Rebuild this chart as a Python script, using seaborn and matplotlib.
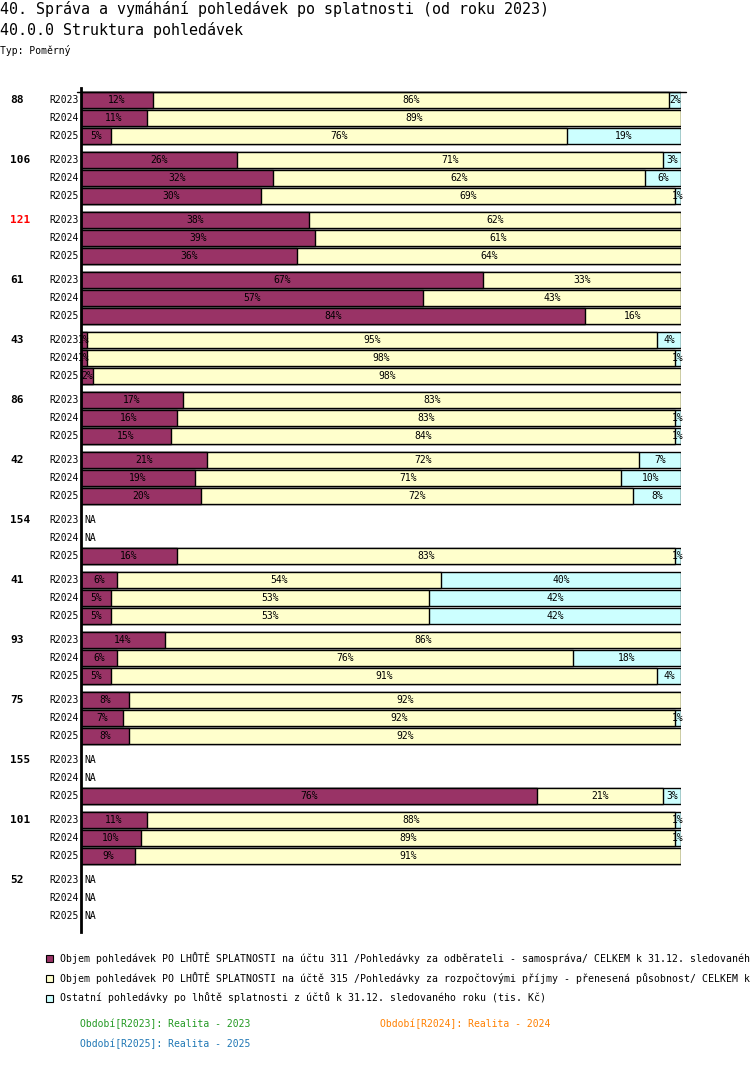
import numpy as np
import pandas as pd
import matplotlib
matplotlib.use("Agg")
import matplotlib.pyplot as plt
from matplotlib.patches import Rectangle
import seaborn as sns

# --- data (percent shares) ---
groups = ["88", "106", "121", "61", "43", "86", "42", "154", "41", "93", "75", "155", "101", "52"]
periods = ["R2023", "R2024", "R2025"]
nan = np.nan
share_311 = [12, 11, 5,  26, 32, 30,  38, 39, 36,  67, 57, 84,  1, 1, 2,  17, 16, 15,
             21, 19, 20,  nan, nan, 16,  6, 5, 5,  14, 6, 5,  8, 7, 8,  nan, nan, 76,
             11, 10, 9,  nan, nan, nan]
share_315 = [86, 89, 76,  71, 62, 69,  62, 61, 64,  33, 43, 16,  95, 98, 98,  83, 83, 84,
             72, 71, 72,  nan, nan, 83,  54, 53, 53,  86, 76, 91,  92, 92, 92,  nan, nan, 21,
             88, 89, 91,  nan, nan, nan]
share_other = [2, 0, 19,  3, 6, 1,  0, 0, 0,  0, 0, 0,  4, 1, 0,  0, 1, 1,
               7, 10, 8,  nan, nan, 1,  40, 42, 42,  0, 18, 4,  0, 1, 0,  nan, nan, 3,
               1, 1, 0,  nan, nan, nan]
highlight = "121"

legend_labels = [
    "Objem pohledávek PO LHŮTĚ SPLATNOSTI na účtu 311 /Pohledávky za odběrateli - samospráva/ CELKEM k 31.12. sledovaného roku (tis. Kč)",
    "Objem pohledávek PO LHŮTĚ SPLATNOSTI na účtě 315 /Pohledávky za rozpočtovými příjmy - přenesená působnost/ CELKEM k 31.12. sledovaného roku (tis. Kč)",
    "Ostatní pohledávky po lhůtě splatnosti z účtů k 31.12. sledovaného roku (tis. Kč)",
]
period_notes = ["Období[R2023]: Realita - 2023", "Období[R2024]: Realita - 2024", "Období[R2025]: Realita - 2025"]

C_311 = "#993366"
C_315 = "#ffffcc"
C_OTH = "#ccffff"
note_colors = ["#229922", "#ff8000", "#1f77b4"]

W, H = 750, 1082
GAP = 1 / 3  # extra space between groups, in row units

rows = []
for gi, g in enumerate(groups):
    for pi, p in enumerate(periods):
        k = gi * 3 + pi
        rows.append(dict(group=g, period=p, y=gi * (3 + GAP) + pi,
                         a=share_311[k], b=share_315[k], c=share_other[k]))
df = pd.DataFrame(rows)
df["ab"] = df["a"] + df["b"]
df["abc"] = df["ab"] + df["c"]
valid = df.dropna(subset=["a"])

sns.set_style("white")
plt.rcParams["font.family"] = ["DejaVu Sans Mono", "DejaVu Sans"]
plt.rcParams["text.color"] = "black"

fig = plt.figure(figsize=(W / 100, H / 100), dpi=100)


def fx(px):
    return px / W


def fy(py):
    return 1 - py / H


ax = fig.add_axes([fx(81), fy(932), fx(600), (932 - 88) / H])

for col, color in [("abc", C_OTH), ("ab", C_315), ("a", C_311)]:
    sns.barplot(data=valid, x=col, y="y", orient="h", native_scale=True,
                width=0.9, color=color, saturation=1, edgecolor="black",
                linewidth=1, errorbar=None, ax=ax)

# percent labels in segments
for _, r in valid.iterrows():
    left = 0
    for v in (r["a"], r["b"], r["c"]):
        if v > 0:
            ax.text(left + v / 2, r["y"], f"{v:.0f}%", ha="center", va="center",
                    fontsize=7, color="black")
        left += v

# NA rows
for _, r in df[df["a"].isna()].iterrows():
    ax.text(0.5, r["y"], "NA", ha="left", va="center", fontsize=7, color="black")

ax.set_xlim(0, 100)
ax.set_ylim((932 - 100) / 18, -12 / 18)
ax.set_xlabel("")
ax.set_ylabel("")
ax.set_xticks([])
ax.set_yticks([])
for s in ["top", "right", "bottom"]:
    ax.spines[s].set_visible(False)
ax.spines["left"].set_linewidth(2)
ax.spines["left"].set_color("black")
ax.plot([-0.7, 100.8], [-0.45, -0.45], color="black", lw=1, clip_on=False)

# row and group labels
for _, r in df.iterrows():
    ax.text(-0.4, r["y"], r["period"], ha="right", va="center", fontsize=7, color="black")
for gi, g in enumerate(groups):
    ax.text(-11.8, gi * (3 + GAP), g, ha="left", va="center", fontsize=8,
            fontweight="bold", color="red" if g == highlight else "black")

# titles
fig.text(fx(0), fy(9), "40. Správa a vymáhání pohledávek po splatnosti (od roku 2023)",
         fontsize=10.8, ha="left", va="center")
fig.text(fx(0), fy(30), "40.0.0 Struktura pohledávek", fontsize=10.8, ha="left", va="center")
fig.text(fx(0), fy(50), "Typ: Poměrný", fontsize=7, ha="left", va="center")

# legend (long labels run past the right edge, as in the source)
for i, (lab, color) in enumerate(zip(legend_labels, [C_311, C_315, C_OTH])):
    yc = 958 + i * 20
    fig.add_artist(Rectangle((fx(46), fy(yc + 3.5)), 7 / W, 7 / H, transform=fig.transFigure,
                             facecolor=color, edgecolor="black", linewidth=0.8))
    fig.text(fx(60), fy(yc), lab, fontsize=7.1, ha="left", va="center")

for txt, color, (px, py) in zip(period_notes, note_colors, [(80, 1024), (380, 1024), (80, 1044)]):
    fig.text(fx(px), fy(py), txt, fontsize=7, ha="left", va="center", color=color)

fig.savefig("out.png", dpi=100)
